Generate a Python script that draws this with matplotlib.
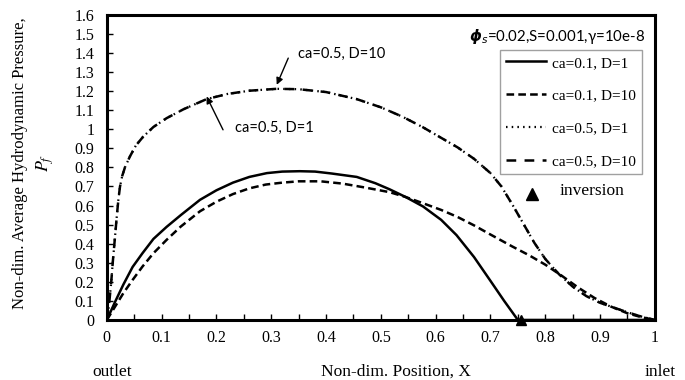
import matplotlib
matplotlib.use("Agg")
import matplotlib.pyplot as plt
import numpy as np

plt.rcParams['lines.scale_dashes'] = False
plt.rcParams['mathtext.fontset'] = 'dejavusans'

# ---------------- data ----------------
x_ca01_D1 = [0, 0.015, 0.03, 0.047, 0.065, 0.085, 0.109, 0.135, 0.17, 0.2, 0.23, 0.26,
             0.292, 0.32, 0.352, 0.38, 0.41, 0.456, 0.49, 0.516, 0.545, 0.577, 0.61,
             0.638, 0.67, 0.70, 0.725, 0.75, 0.8, 0.9, 1.0]
p_ca01_D1 = [0, 0.095, 0.185, 0.278, 0.35, 0.425, 0.488, 0.55, 0.63, 0.68, 0.72, 0.75,
             0.77, 0.778, 0.78, 0.778, 0.768, 0.75, 0.717, 0.685, 0.645, 0.595, 0.525,
             0.445, 0.33, 0.205, 0.10, 0.0, 0.0, 0.0, 0.0]

x_ca01_D10 = [0, 0.015, 0.03, 0.047, 0.065, 0.085, 0.109, 0.135, 0.17, 0.2, 0.23, 0.26,
              0.29, 0.32, 0.35, 0.39, 0.43, 0.47, 0.516, 0.545, 0.577, 0.61, 0.64, 0.67,
              0.70, 0.74, 0.77, 0.80, 0.83, 0.86, 0.89, 0.92, 0.95, 0.975, 1.0]
p_ca01_D10 = [0, 0.07, 0.14, 0.21, 0.28, 0.35, 0.42, 0.49, 0.57, 0.62, 0.66, 0.69,
              0.71, 0.72, 0.727, 0.727, 0.715, 0.695, 0.67, 0.645, 0.612, 0.577, 0.54,
              0.496, 0.448, 0.385, 0.34, 0.29, 0.232, 0.17, 0.115, 0.07, 0.035, 0.015, 0.0]

x_ca05 = [0, 0.004, 0.008, 0.011, 0.015, 0.018, 0.021, 0.024, 0.028, 0.033, 0.042, 0.053,
          0.066, 0.085, 0.109, 0.14, 0.182, 0.22, 0.26, 0.31, 0.35, 0.40, 0.456, 0.50,
          0.54, 0.577, 0.61, 0.64, 0.67, 0.70, 0.72, 0.741, 0.76, 0.78, 0.80, 0.825,
          0.85, 0.875, 0.90, 0.94, 0.97, 1.0]
p_ca05_D1 = [0, 0.08, 0.2, 0.31, 0.44, 0.54, 0.63, 0.70, 0.755, 0.80, 0.857, 0.915,
             0.96, 1.012, 1.058, 1.105, 1.158, 1.185, 1.202, 1.212, 1.21, 1.195, 1.158, 1.115,
             1.065, 1.01, 0.955, 0.905, 0.845, 0.77, 0.70, 0.60, 0.505, 0.405, 0.32, 0.24,
             0.175, 0.125, 0.09, 0.05, 0.022, 0.0]
p_ca05_D10 = [0, 0.08, 0.2, 0.31, 0.44, 0.54, 0.63, 0.70, 0.755, 0.80, 0.857, 0.915,
              0.96, 1.012, 1.058, 1.105, 1.158, 1.185, 1.202, 1.212, 1.21, 1.195, 1.158, 1.115,
              1.065, 1.01, 0.955, 0.905, 0.845, 0.77, 0.70, 0.60, 0.505, 0.405, 0.32, 0.24,
              0.175, 0.125, 0.09, 0.05, 0.022, 0.0]

inversion_x = [0.755]
inversion_p = [0.0]

labels = ["ca=0.1, D=1", "ca=0.1, D=10", "ca=0.5, D=1", "ca=0.5, D=10"]
x_ticks = [0, 0.1, 0.2, 0.3, 0.4, 0.5, 0.6, 0.7, 0.8, 0.9, 1]
y_ticks = [0, 0.1, 0.2, 0.3, 0.4, 0.5, 0.6, 0.7, 0.8, 0.9, 1, 1.1, 1.2, 1.3, 1.4, 1.5, 1.6]

# ---------------- figure ----------------
SERIF = 'Liberation Serif'
SANS = 'Lato'

fig = plt.figure(figsize=(6.85, 3.80), dpi=100)
ax = fig.add_axes([0.156, 0.158, 0.800, 0.803])

l1, = ax.plot(x_ca01_D1, p_ca01_D1, color='black', lw=1.8, solid_joinstyle='round',
              label=labels[0])
l2, = ax.plot(x_ca01_D10, p_ca01_D10, color='black', lw=1.8, dashes=(5.5, 3),
              label=labels[1])
l3, = ax.plot(x_ca05, p_ca05_D1, color='black', lw=1.6, dashes=(1.1, 3.0),
              label=labels[2])
l4, = ax.plot(x_ca05, p_ca05_D10, color='black', lw=1.8, dashes=(7, 6),
              label=labels[3])
ax.plot(inversion_x, inversion_p, linestyle='none', marker='^', color='black',
        markersize=7, clip_on=False, zorder=5)

ax.set_xlim(0, 1)
ax.set_ylim(0, 1.6)
ax.set_xticks(x_ticks)
ax.set_xticklabels([f"{t:g}" for t in x_ticks], fontfamily=SERIF, fontsize=11.5)
ax.set_xticks(np.arange(0.05, 1.0, 0.1), minor=True)
ax.set_yticks(y_ticks)
ax.set_yticklabels([f"{t:g}" for t in y_ticks], fontfamily=SERIF, fontsize=11.5)
ax.tick_params(axis='x', which='both', direction='in', length=4, width=1, pad=7)
ax.tick_params(axis='y', which='both', direction='in', length=4, width=1, pad=9)
for s in ax.spines.values():
    s.set_linewidth(2.2)

leg = ax.legend(handles=[l1, l2, l3, l4], loc='upper right',
                bbox_to_anchor=(0.976, 0.885), borderaxespad=0,
                prop={'family': SERIF, 'size': 11}, frameon=True, fancybox=False,
                edgecolor='#888888', handlelength=2.65, handletextpad=0.35,
                labelspacing=1.25, borderpad=0.4)
leg.get_frame().set_linewidth(1.0)

# inversion legend item (outside the legend box)
ax.plot([0.776], [0.414], transform=ax.transAxes, marker='^', color='black',
        markersize=8, linestyle='none', clip_on=False)
ax.text(0.827, 0.424, "inversion", transform=ax.transAxes, fontfamily=SERIF,
        fontsize=12.5, va='center', ha='left')

# parameter text
ax.text(0.982, 0.931, r"$\boldsymbol{\phi}_{s}$=0.02,S=0.001,γ=10e-8",
        transform=ax.transAxes, fontfamily=SANS, fontsize=10.8, ha='right',
        va='center')

# annotations
ax.text(0.349, 1.395, "ca=0.5, D=10", fontfamily=SANS, fontsize=10.5, va='center',
        ha='left')
ax.annotate('', xy=(0.310, 1.233), xytext=(0.331, 1.373),
            arrowprops=dict(arrowstyle='-|>', color='black', lw=1.0,
                            mutation_scale=10, shrinkA=0, shrinkB=0))
ax.text(0.234, 1.007, "ca=0.5, D=1", fontfamily=SANS, fontsize=10.5, va='center',
        ha='left')
ax.annotate('', xy=(0.182, 1.172), xytext=(0.212, 0.997),
            arrowprops=dict(arrowstyle='-|>', color='black', lw=1.0,
                            mutation_scale=10, shrinkA=0, shrinkB=0))

# axis labels
fig.text(20 / 685, 1 - 163 / 380, "Non-dim. Average Hydrodynamic Pressure,",
         rotation=90, ha='center', va='center', fontfamily=SERIF, fontsize=12)
fig.text(45 / 685, 1 - 163 / 380, r"$P_f$", rotation=90, ha='center',
         va='center', fontsize=13, math_fontfamily='stix')
fig.text(396 / 685, 1 - 372 / 380, "Non-dim. Position, X", ha='center',
         va='center', fontfamily=SERIF, fontsize=12.5)
fig.text(112 / 685, 1 - 372 / 380, "outlet", ha='center', va='center',
         fontfamily=SERIF, fontsize=12.5)
fig.text(660 / 685, 1 - 372 / 380, "inlet", ha='center', va='center',
         fontfamily=SERIF, fontsize=12.5)

fig.savefig("out.png", dpi=100)
